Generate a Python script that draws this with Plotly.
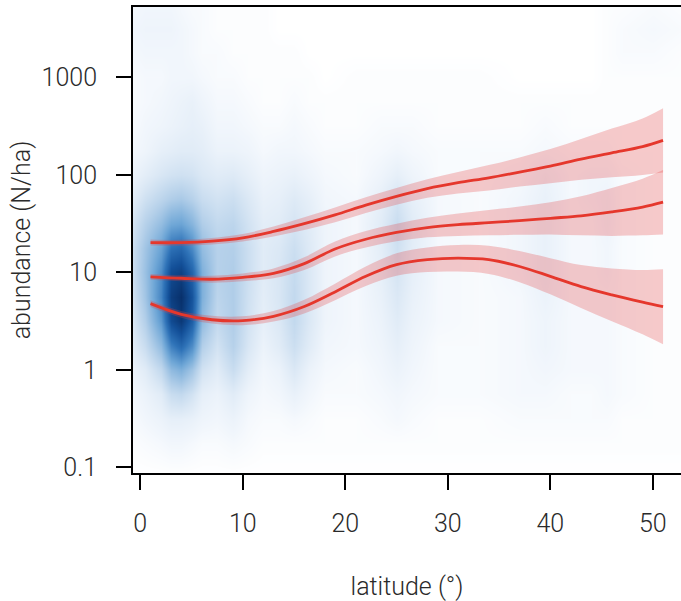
import numpy as np
import plotly.graph_objects as go

# ---------------- data ----------------
# fitted quantile curves (abundance, N/ha) vs latitude
lat_fit = [1, 4, 7, 10, 13, 16, 19, 22, 25, 28, 31, 34, 37, 40, 43, 46, 49, 51]

upper_fit = [20.2, 20.2, 20.9, 22.6, 26.3, 31.6, 38.9, 49.0, 60.3, 72.4, 83.2, 93.3, 107, 123, 145, 168, 195, 226]
upper_hi = [21.7, 21.6, 22.6, 24.8, 29.5, 36.7, 46.2, 58.9, 73.3, 90.2, 107, 126, 151, 184, 234, 299, 380, 484]
upper_lo = [18.9, 18.8, 19.3, 20.7, 23.4, 27.2, 32.7, 40.7, 49.5, 58.2, 64.6, 69.2, 75.9, 82.2, 89.1, 94.4, 100, 106]

middle_fit = [9.02, 8.71, 8.51, 8.91, 9.77, 12.3, 17.4, 21.9, 25.7, 28.8, 30.9, 32.4, 33.9, 35.9, 38.0, 41.7, 46.8, 52.5]
middle_hi = [9.66, 9.33, 9.23, 9.77, 11.0, 14.3, 20.7, 26.6, 31.6, 36.3, 40.3, 43.7, 47.3, 52.5, 60.3, 73.3, 91.2, 112]
middle_lo = [8.41, 8.13, 7.85, 8.13, 8.71, 10.6, 14.6, 18.0, 20.9, 22.9, 23.7, 24.0, 24.3, 24.5, 24.0, 23.7, 24.0, 24.5]

lower_fit = [4.79, 3.72, 3.27, 3.20, 3.55, 4.47, 6.31, 9.12, 12.0, 13.5, 14.0, 13.5, 11.5, 9.12, 7.16, 5.89, 4.95, 4.45]
lower_hi = [5.19, 4.03, 3.59, 3.55, 4.03, 5.25, 7.67, 11.5, 15.7, 18.0, 19.1, 18.8, 16.6, 14.0, 11.9, 11.0, 10.6, 10.8]
lower_lo = [4.42, 3.43, 2.99, 2.88, 3.13, 3.80, 5.19, 7.24, 9.23, 10.1, 10.2, 9.66, 7.94, 5.96, 4.32, 3.16, 2.32, 1.83]

# observation density (relative, 0-100): grid columns at latitudes, rows at log10(abundance)
dens_lat = [-1, 0.5, 2, 3, 4, 5, 6, 7.5, 9, 10.5, 12, 13.5, 15, 16.5, 18, 21, 23.5, 25,
            26.5, 29, 33, 37, 39.5, 42, 44, 45.5, 47, 50, 53]
dens_log_abund = [-1.1, -0.75, -0.5, -0.25, 0, 0.25, 0.5, 0.75, 1.0, 1.25, 1.5, 1.75,
                  2.0, 2.25, 2.5, 2.75, 3.0, 3.25, 3.5, 3.75]
dens_cols = [
    [0, 1, 2, 3, 5, 8, 10, 12, 14, 14, 12, 8, 5, 3, 2, 2, 2, 3, 4, 3],
    [0, 2, 4, 6, 10, 18, 25, 30, 32, 30, 24, 16, 9, 5, 4, 3, 3, 4, 5, 4],
    [0, 3, 6, 10, 20, 35, 50, 58, 55, 46, 34, 22, 13, 8, 5, 4, 3, 4, 5, 4],
    [0, 4, 8, 18, 35, 60, 85, 92, 85, 66, 44, 26, 15, 9, 6, 5, 4, 4, 5, 4],
    [0, 4, 8, 20, 40, 70, 95, 100, 90, 70, 46, 28, 16, 10, 7, 6, 4, 4, 4, 3],
    [0, 3, 7, 15, 30, 55, 75, 80, 72, 56, 38, 24, 15, 10, 8, 7, 4, 3, 3, 2],
    [0, 2, 5, 8, 15, 25, 35, 40, 40, 34, 26, 18, 12, 9, 7, 5, 3, 2, 2, 2],
    [0, 2, 4, 6, 10, 15, 20, 22, 24, 24, 20, 15, 10, 6, 4, 3, 2, 2, 1, 1],
    [0, 3, 6, 10, 18, 24, 26, 26, 26, 25, 22, 17, 11, 6, 4, 3, 2, 1, 1, 1],
    [0, 2, 3, 5, 9, 13, 15, 16, 17, 17, 15, 12, 8, 5, 3, 2, 1, 1, 1, 1],
    [0, 1, 2, 3, 4, 6, 8, 9, 10, 10, 9, 7, 5, 3, 2, 1, 1, 1, 1, 1],
    [0, 1, 2, 4, 6, 10, 12, 13, 13, 12, 10, 8, 6, 4, 2, 1, 1, 1, 0, 0],
    [0, 1, 3, 7, 12, 17, 20, 20, 19, 17, 14, 11, 7, 4, 3, 2, 1, 1, 0, 0],
    [0, 1, 2, 4, 6, 10, 12, 12, 12, 11, 10, 8, 5, 3, 2, 1, 1, 0, 0, 0],
    [0, 1, 1, 2, 3, 4, 5, 5, 5, 5, 5, 4, 3, 2, 1, 1, 0, 0, 0, 0],
    [0, 1, 1, 2, 2, 3, 3, 3, 3, 3, 3, 3, 2, 2, 1, 1, 1, 0, 0, 0],
    [0, 1, 2, 3, 4, 5, 6, 7, 8, 9, 10, 8, 5, 3, 2, 1, 1, 0, 0, 0],
    [0, 1, 3, 4, 6, 8, 10, 12, 14, 16, 18, 14, 8, 4, 2, 1, 1, 0, 0, 0],
    [0, 1, 2, 3, 4, 5, 6, 7, 8, 9, 10, 8, 5, 3, 2, 1, 1, 0, 0, 0],
    [0, 1, 1, 2, 2, 2, 3, 3, 3, 3, 3, 3, 2, 2, 1, 1, 1, 0, 0, 0],
    [0, 1, 1, 2, 2, 2, 2, 2, 2, 2, 2, 2, 2, 2, 1, 1, 1, 0, 0, 0],
    [0, 1, 2, 3, 3, 3, 3, 3, 4, 4, 4, 4, 3, 2, 1, 1, 0, 0, 0, 0],
    [0, 1, 2, 3, 4, 5, 5, 6, 7, 7, 7, 7, 6, 3, 2, 1, 0, 0, 0, 0],
    [0, 1, 2, 2, 3, 3, 3, 3, 3, 3, 3, 3, 3, 2, 1, 1, 0, 0, 0, 0],
    [0, 1, 2, 2, 3, 3, 3, 3, 3, 3, 3, 4, 4, 2, 1, 1, 0, 0, 0, 0],
    [0, 1, 2, 3, 3, 3, 3, 3, 4, 4, 5, 5, 4, 2, 1, 1, 1, 1, 1, 1],
    [0, 1, 1, 2, 2, 2, 2, 2, 2, 2, 2, 2, 2, 1, 1, 1, 1, 2, 2, 1],
    [0, 1, 1, 1, 1, 1, 1, 1, 1, 1, 1, 1, 1, 1, 1, 1, 1, 2, 3, 2],
    [0, 1, 1, 1, 1, 1, 1, 1, 1, 1, 1, 1, 1, 1, 1, 1, 1, 1, 2, 1],
]

x_ticks = [0, 10, 20, 30, 40, 50]
y_tick_logs = [-1, 0, 1, 2, 3]
y_tick_labels = ["0.1", "1", "10", "100", "1000"]

# ---------------- figure ----------------
LINE_RED = "#e5372c"
BAND = "rgba(230,62,62,0.27)"
FONT = dict(family="Roboto, Liberation Sans, Arial, sans-serif", size=25,
            color="#2a2a2a", weight=300)
YLOG_RANGE = [-1.057, 3.722]

blues = [
    [0.0, "#ffffff"], [0.04, "#f1f6fc"], [0.12, "#dbe8f5"], [0.25, "#b3cfe9"],
    [0.45, "#6ea6d6"], [0.65, "#2f73b8"], [0.82, "#135099"], [1.0, "#08306b"],
]

fig = go.Figure()

fig.add_trace(go.Heatmap(
    x=dens_lat, y=dens_log_abund, z=np.array(dens_cols).T,
    zmin=0, zmax=100, zsmooth="best", colorscale=blues, showscale=False,
    hoverinfo="skip", xaxis="x", yaxis="y",
))

for hi, lo in [(upper_hi, upper_lo), (middle_hi, middle_lo), (lower_hi, lower_lo)]:
    fig.add_trace(go.Scatter(
        x=lat_fit, y=lo, mode="lines", line=dict(width=0, shape="spline"),
        hoverinfo="skip", showlegend=False, xaxis="x", yaxis="y2",
    ))
    fig.add_trace(go.Scatter(
        x=lat_fit, y=hi, mode="lines", line=dict(width=0, shape="spline"),
        fill="tonexty", fillcolor=BAND,
        hoverinfo="skip", showlegend=False, xaxis="x", yaxis="y2",
    ))
for fit in [upper_fit, middle_fit, lower_fit]:
    fig.add_trace(go.Scatter(
        x=lat_fit, y=fit, mode="lines",
        line=dict(color=LINE_RED, width=2.8, shape="spline"),
        showlegend=False, xaxis="x", yaxis="y2",
    ))

axis_common = dict(
    showgrid=False, zeroline=False, showline=True, linecolor="black", linewidth=2,
    ticks="outside", ticklen=15, tickwidth=2, tickcolor="black",
    tickfont=FONT,
)

fig.update_layout(
    width=681, height=601,
    margin=dict(l=133, r=0, t=7, b=128),
    paper_bgcolor="white", plot_bgcolor="white",
    showlegend=False,
    xaxis=dict(
        range=[-0.71, 52.75], tickvals=x_ticks, mirror=True,
        title=dict(text="latitude (°)", font=FONT, standoff=40),
        ticklabelstandoff=12,
        **axis_common,
    ),
    yaxis=dict(
        range=YLOG_RANGE, tickvals=y_tick_logs, ticktext=y_tick_labels,
        title=dict(text="abundance (N/ha)", font=FONT, standoff=4),
        ticklabelstandoff=14,
        **axis_common,
    ),
    yaxis2=dict(
        type="log", range=YLOG_RANGE, overlaying="y", visible=False,
        showgrid=False, zeroline=False,
    ),
)

fig.write_html("out.html")
